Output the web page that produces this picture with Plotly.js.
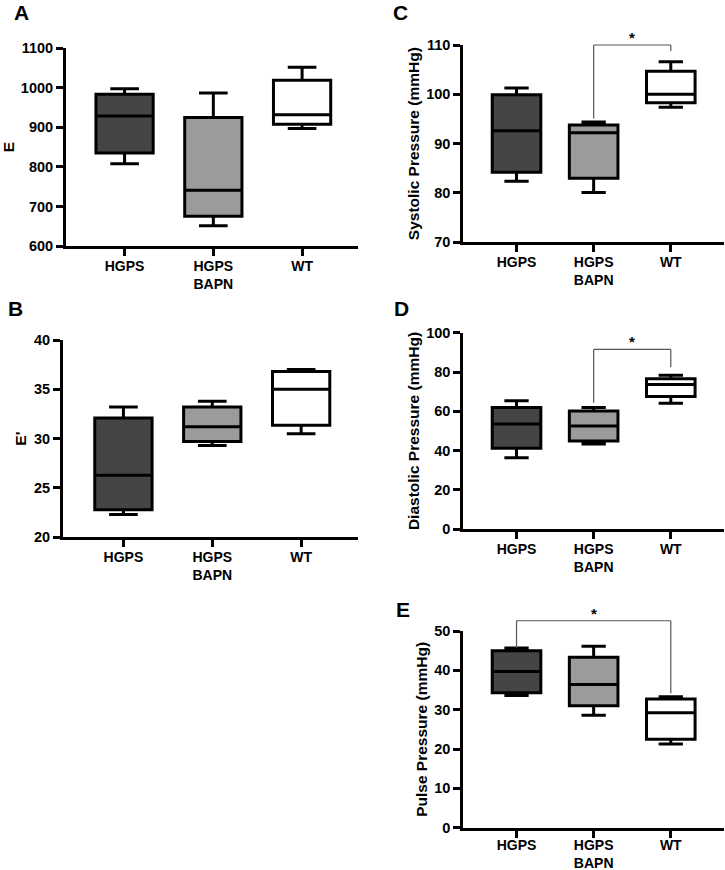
<!DOCTYPE html>
<html>
<head>
<meta charset="utf-8">
<script src="https://cdn.plot.ly/plotly-3.0.1.min.js"></script>
<style>html,body{margin:0;padding:0;background:#fff;}#chart{width:725px;height:870px;}</style>
</head>
<body>
<div id="chart"></div>
<script>
// ---- data ----
const categories = ['HGPS', 'HGPS<br>BAPN', 'WT'];
const groupFills = ['#454545', '#9b9b9b', '#ffffff'];

// Panel A: E
const A_min = [808, 651, 897];
const A_q1  = [835, 675, 908];
const A_med = [929, 741, 932];
const A_q3  = [984, 925, 1019];
const A_max = [998, 987, 1052];

// Panel B: E'
const B_min = [22.3, 29.3, 30.5];
const B_q1  = [22.8, 29.7, 31.35];
const B_med = [26.3, 31.2, 35.0];
const B_q3  = [32.1, 33.2, 36.8];
const B_max = [33.2, 33.8, 37.0];

// Panel C: Systolic pressure
const C_min = [82.4, 80.1, 97.4];
const C_q1  = [84.2, 83.0, 98.3];
const C_med = [92.6, 92.2, 100.0];
const C_q3  = [99.9, 93.8, 104.7];
const C_max = [101.3, 94.4, 106.6];

// Panel D: Diastolic pressure
const D_min = [36.4, 43.4, 64.1];
const D_q1  = [41.2, 44.9, 67.6];
const D_med = [53.6, 52.5, 73.7];
const D_q3  = [61.9, 60.2, 76.6];
const D_max = [65.4, 62.0, 78.3];

// Panel E: Pulse pressure
const E_min = [33.6, 28.6, 21.3];
const E_q1  = [34.3, 31.0, 22.5];
const E_med = [39.7, 36.4, 29.2];
const E_q3  = [45.0, 43.3, 32.7];
const E_max = [45.7, 46.1, 33.3];

// significance brackets: [fromGroup, toGroup, leftEnd, top, rightEnd]
const C_sig = [1, 2, 95.1, 110.0, 108.8];
const D_sig = [1, 2, 64.4, 91.5, 82.4];
const E_sig = [0, 2, 45.7, 52.6, 34.2];

const panelLetters = ['A', 'B', 'C', 'D', 'E'];
const yTitles = ['E', "E'", 'Systolic Pressure (mmHg)', 'Diastolic Pressure (mmHg)', 'Pulse Pressure (mmHg)'];

// ---- layout helpers ----
const W = 725, H = 870;
const FONT = 'Arial, "Liberation Sans", Helvetica, sans-serif';
const fx = px => px / W;
const fy = px => 1 - px / H;

const panels = [
  {id: '',  stats: [A_min, A_q1, A_med, A_q3, A_max], yr: [600, 1100], dt: 100, xd: [66, 358], yd: [48.3, 246], xr: [-0.66, 2.63], bw: 0.645, sig: null, ts: 4, xs: -2},
  {id: '2', stats: [B_min, B_q1, B_med, B_q3, B_max], yr: [20, 40], dt: 5, xd: [63, 358], yd: [340, 537.3], xr: [-0.68, 2.64], bw: 0.645, sig: null, ts: 4, xs: -2},
  {id: '3', stats: [C_min, C_q1, C_med, C_q3, C_max], yr: [70, 110], dt: 10, xd: [463.3, 724], yd: [45, 242.3], xr: [-0.69, 2.69], bw: 0.63, sig: C_sig, ts: 3, xs: -2},
  {id: '4', stats: [D_min, D_q1, D_med, D_q3, D_max], yr: [0, 100], dt: 20, xd: [463.3, 724], yd: [332.7, 529.3], xr: [-0.69, 2.69], bw: 0.63, sig: D_sig, ts: 3, xs: -2},
  {id: '5', stats: [E_min, E_q1, E_med, E_q3, E_max], yr: [0, 50], dt: 10, xd: [463.3, 724], yd: [631, 827.7], xr: [-0.69, 2.69], bw: 0.63, sig: E_sig, ts: 3, xs: -5}
];
const letterPos = [[21, 13], [15, 309], [400, 12], [401, 308], [403, 609]];

const traces = [];
const layout = {
  width: W, height: H,
  margin: {l: 0, r: 0, t: 0, b: 0, pad: 0},
  paper_bgcolor: '#fff', plot_bgcolor: 'rgba(0,0,0,0)',
  showlegend: false,
  boxmode: 'overlay',
  font: {family: FONT, color: '#000'},
  shapes: [], annotations: []
};

const axisCommon = {
  showline: true, linewidth: 3, linecolor: '#000',
  ticks: 'outside', ticklen: 7, tickwidth: 3, tickcolor: '#000',
  showgrid: false, zeroline: false, fixedrange: true,
  tickfont: {family: FONT, size: 14.5, color: '#000', weight: 'bold'}
};

panels.forEach((p, i) => {
  const xa = 'x' + p.id, ya = 'y' + p.id;
  const [mn, q1, md, q3, mx] = p.stats;
  categories.forEach((c, g) => {
    traces.push({
      type: 'box', xaxis: xa, yaxis: ya,
      x: [c], q1: [q1[g]], median: [md[g]], q3: [q3[g]],
      lowerfence: [mn[g]], upperfence: [mx[g]],
      boxpoints: false, width: p.bw, whiskerwidth: 0.5,
      fillcolor: groupFills[g],
      line: {color: '#000', width: 3},
      hoverinfo: 'skip'
    });
  });
  layout['xaxis' + p.id] = Object.assign({}, axisCommon, {
    domain: [fx(p.xd[0]), fx(p.xd[1])], anchor: ya,
    type: 'category', categoryorder: 'array', categoryarray: categories,
    range: p.xr, ticklabelstandoff: p.xs,
    tickfont: {family: FONT, size: 14, color: '#000', weight: 'bold'}
  });
  layout['yaxis' + p.id] = Object.assign({}, axisCommon, {
    domain: [fy(p.yd[1]), fy(p.yd[0])], anchor: xa,
    range: p.yr, dtick: p.dt, tick0: 0,
    title: {text: yTitles[i], standoff: p.ts, font: {family: FONT, size: 15.5, color: '#000', weight: 'bold'}}
  });
  if (p.sig) {
    const s = p.sig;
    const d = v => (v - p.yr[0]) / (p.yr[1] - p.yr[0]);
    const x0 = categories[s[0]], x1 = categories[s[1]];
    const line = {color: '#555', width: 1.2};
    const yref = ya + ' domain';
    layout.shapes.push({type: 'line', xref: xa, yref: yref, x0: x0, x1: x0, y0: d(s[2]), y1: d(s[3]), line: line});
    layout.shapes.push({type: 'line', xref: xa, yref: yref, x0: x0, x1: x1, y0: d(s[3]), y1: d(s[3]), line: line});
    layout.shapes.push({type: 'line', xref: xa, yref: yref, x0: x1, x1: x1, y0: d(s[3]), y1: d(s[4]), line: line});
    layout.annotations.push({
      xref: xa, yref: yref, x: (s[0] + s[1]) / 2, y: d(s[3]),
      text: '*', showarrow: false, yanchor: 'bottom', yshift: -3,
      font: {family: FONT, size: 15, color: '#000', weight: 'bold'}
    });
  }
});

panelLetters.forEach((L, i) => {
  layout.annotations.push({
    xref: 'paper', yref: 'paper', x: fx(letterPos[i][0]), y: fy(letterPos[i][1]),
    text: L, showarrow: false, xanchor: 'center', yanchor: 'middle',
    font: {family: FONT, size: 21, color: '#000', weight: 'bold'}
  });
});

Plotly.newPlot('chart', traces, layout, {staticPlot: true, displayModeBar: false});
</script>
</body>
</html>
